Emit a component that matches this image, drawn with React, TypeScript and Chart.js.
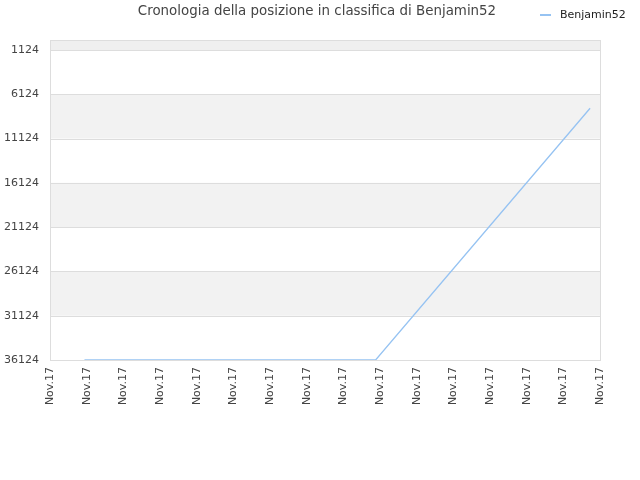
import { useEffect, useRef } from "react";
import { Chart, registerables } from "chart.js";

Chart.register(...registerables);

// x positions are in "label units" (0 = first Nov.17 tick, 15 = last)
const xLabels = [
  "Nov.17", "Nov.17", "Nov.17", "Nov.17", "Nov.17", "Nov.17", "Nov.17", "Nov.17",
  "Nov.17", "Nov.17", "Nov.17", "Nov.17", "Nov.17", "Nov.17", "Nov.17", "Nov.17",
];
const pointX = [0.94, 8.88, 14.73];
const rankValues = [36124, 36124, 7705];
const yTicks = [1124, 6124, 11124, 16124, 21124, 26124, 31124, 36124];

const seriesName = "Benjamin52";
const titleText = "Cronologia della posizione in classifica di Benjamin52";
const lineColor = "#96c3f2";
const FONT = "'DejaVu Sans', sans-serif";

const bandsAndFrame = {
  id: "bandsAndFrame",
  beforeDatasetsDraw(chart: Chart) {
    const { ctx, chartArea } = chart;
    const y = chart.scales.y;
    const edges = [0, ...yTicks];
    ctx.save();
    for (let i = 0; i < edges.length - 1; i++) {
      if (i % 2 !== 0) continue;
      const top = y.getPixelForValue(edges[i]);
      const bottom = y.getPixelForValue(edges[i + 1]);
      ctx.fillStyle = i === 0 ? "#efefef" : "#f2f2f2";
      ctx.fillRect(chartArea.left, top, chartArea.right - chartArea.left, bottom - top);
    }
    ctx.strokeStyle = "#dddddd";
    ctx.lineWidth = 1;
    for (const v of yTicks) {
      const py = Math.round(y.getPixelForValue(v)) + 0.5;
      ctx.beginPath();
      ctx.moveTo(chartArea.left, py);
      ctx.lineTo(chartArea.right, py);
      ctx.stroke();
    }
    ctx.strokeRect(
      Math.round(chartArea.left) + 0.5,
      Math.round(chartArea.top) + 0.5,
      Math.round(chartArea.right - chartArea.left),
      Math.round(chartArea.bottom - chartArea.top),
    );
    ctx.restore();
  },
  afterDraw(chart: Chart) {
    const { ctx } = chart;
    ctx.save();
    ctx.textBaseline = "middle";
    ctx.font = `13.4px ${FONT}`;
    ctx.fillStyle = "#444444";
    ctx.textAlign = "center";
    ctx.fillText(titleText, 317, 12);
    ctx.strokeStyle = lineColor;
    ctx.lineWidth = 2;
    ctx.beginPath();
    ctx.moveTo(540, 15);
    ctx.lineTo(551, 15);
    ctx.stroke();
    ctx.font = `11px ${FONT}`;
    ctx.fillStyle = "#222222";
    ctx.textAlign = "left";
    ctx.fillText(seriesName, 560, 15);
    ctx.restore();
  },
};

export default function App() {
  const canvasRef = useRef<HTMLCanvasElement>(null);

  useEffect(() => {
    if (!canvasRef.current) return;
    document.body.style.margin = "0";

    const chart = new Chart(canvasRef.current, {
      type: "line",
      data: {
        datasets: [
          {
            label: seriesName,
            data: pointX.map((x, i) => ({ x, y: rankValues[i] })),
            borderColor: lineColor,
            borderWidth: 1.3,
            pointRadius: 0,
            fill: false,
            tension: 0,
          },
        ],
      },
      options: {
        animation: false,
        responsive: false,
        devicePixelRatio: 1,
        layout: { padding: { top: 40, right: 40, left: 0, bottom: 0 } },
        plugins: {
          legend: { display: false },
          title: { display: false },
          tooltip: { enabled: false },
        },
        scales: {
          x: {
            type: "linear",
            min: 0,
            max: xLabels.length - 1,
            afterBuildTicks: (scale) => {
              scale.ticks = xLabels.map((_, i) => ({ value: i }));
            },
            afterFit: (scale) => {
              scale.height = 120;
            },
            grid: { display: false, drawTicks: false },
            border: { display: false },
            ticks: {
              autoSkip: false,
              minRotation: 90,
              maxRotation: 90,
              padding: 7,
              color: "#444444",
              font: { family: FONT, size: 11 },
              callback: (v) => xLabels[Number(v)] ?? "",
            },
          },
          y: {
            type: "linear",
            reverse: true,
            min: 0,
            max: 36124,
            afterBuildTicks: (scale) => {
              scale.ticks = yTicks.map((value) => ({ value }));
            },
            afterFit: (scale) => {
              scale.width = 50;
            },
            grid: { display: false, drawTicks: false },
            border: { display: false },
            ticks: {
              padding: 11,
              color: "#444444",
              font: { family: FONT, size: 11 },
              callback: (v) => String(v),
            },
          },
        },
      },
      plugins: [bandsAndFrame],
    });

    return () => chart.destroy();
  }, []);

  return (
    <div style={{ position: "absolute", left: 0, top: 0, width: 640, height: 480 }}>
      <canvas ref={canvasRef} width={640} height={480} />
    </div>
  );
}
